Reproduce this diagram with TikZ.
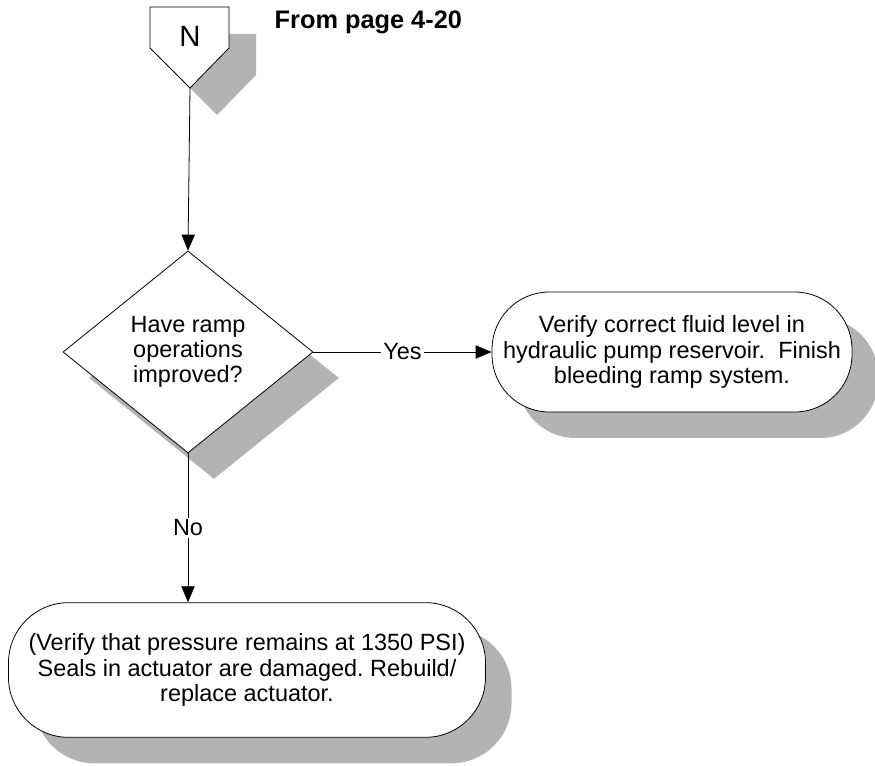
\documentclass[tikz,border=0pt]{standalone}
\usepackage{fontspec}
\setmainfont{Liberation Sans}
\usetikzlibrary{shapes.geometric,arrows.meta,shadows}
\definecolor{shadowgray}{RGB}{179,179,179}
\frenchspacing
\tikzset{
  px/.style={x=0.75pt,y=-0.75pt},
  shad/.style={general shadow={fill=shadowgray,shadow xshift=19.5pt,shadow yshift=-19.5pt}},
  txt/.style={font=\fontsize{17.6}{19}\selectfont},
  decision/.style={shape=diamond,draw,fill=white,line width=0.6pt,inner sep=0pt,
     minimum width=187.5pt,minimum height=151.5pt,align=center,shad,txt},
  term/.style={shape=rectangle,draw,fill=white,line width=0.6pt,align=center,shad,txt},
  arr/.style={draw,line width=0.6pt,-{Triangle[length=12pt,width=10pt]}},
  lbl/.style={fill=white,inner sep=1.5pt,txt}
}
\begin{document}
\begin{tikzpicture}[px]
\useasboundingbox (0,0) rectangle (875,766);
% off-page connector shadow and shape
\fill[shadowgray] (177,34) -- (256,34) -- (256,75) -- (217,115) -- (177,75) -- cycle;
\draw[fill=white,line width=0.6pt] (150,7) -- (229,7) -- (229,48) -- (190,88) -- (150,48) -- cycle;
\node[font=\fontsize{22}{22}\selectfont] (N) at (190,36) {N};
\coordinate (ntip) at (190,88);
\node[anchor=west,font=\bfseries\fontsize{19}{20}\selectfont] (from) at (270,22) {From page 4-20};
% decision
\node[decision] (d) at (188,352) {Have ramp\\operations\\improved?};
% terminators
\node[term,rounded corners=43pt,minimum width=270pt,minimum height=90pt] (t1) at (672,352)
  {Verify correct fluid level in\\hydraulic pump reservoir.\ \ Finish\\bleeding ramp system.};
\node[term,rounded corners=45pt,minimum width=357.75pt,minimum height=101pt] (t2) at (247,670)
  {(Verify that pressure remains at 1350 PSI)\\Seals in actuator are damaged. Rebuild/\\replace actuator.};
% connectors
\draw[arr] (ntip) -- (d.north);
\draw[arr] (d.east) -- node[lbl] (yes) {Yes} (t1.west);
\draw[arr] (d.south) -- node[lbl] (no) {No} (d.south |- t2.north);
\end{tikzpicture}
\end{document}
